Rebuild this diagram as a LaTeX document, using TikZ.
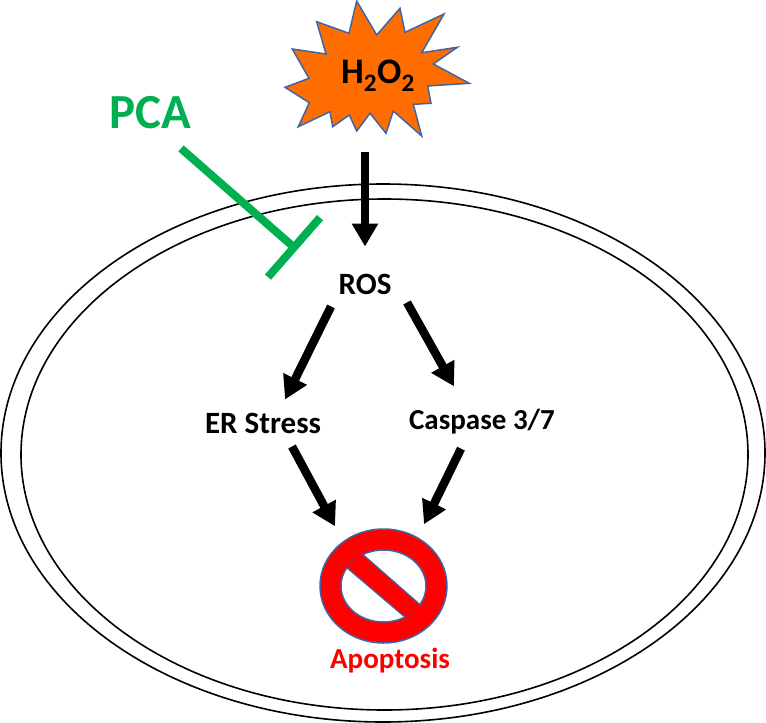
\documentclass[tikz,border=0pt]{standalone}
\usepackage{fontspec}
\setmainfont{Carlito}
\usetikzlibrary{arrows.meta,shapes.geometric}
\definecolor{burst}{HTML}{FF6D01}
\definecolor{rim}{HTML}{3F65A5}
\definecolor{block}{HTML}{00B050}

\begin{document}
\begin{tikzpicture}[x=1pt,y=-1pt,
    arr/.style={line width=8.5pt,-{Triangle[length=23pt,width=25pt]}},
    inhib/.style={line width=8pt,draw=block,-{Bar[width=79pt,line width=8pt]}},
    lbl/.style={font=\bfseries\fontsize{29}{29}\selectfont,inner sep=0pt},
    biglbl/.style={font=\bfseries\fontsize{31}{31}\selectfont,inner sep=0pt},
    wall/.style={draw=black,line width=1.6pt}]

      \useasboundingbox (0,0) rectangle (766,723);

      % cell walls
      \draw[wall] (383,453) ellipse [x radius=382,y radius=269];
      \draw[wall] (384.5,454.5) ellipse [x radius=363.5,y radius=255.5];

      % burst behind the label
      \draw[fill=burst,draw=rim,line width=1.5pt,line join=miter]
        (356.7,1) -- (376.7,35) -- (400,8.3) -- (405,32.3) -- (444,14) -- (421.7,52.7)
        -- (457.3,47.3) -- (433.3,64) -- (469.3,83.3) -- (427.7,86) -- (431,103.3)
        -- (413.3,104.3) -- (421.7,136) -- (393.3,111) -- (386,133.3) -- (370,113.3)
        -- (356.7,131) -- (349.3,115) -- (332.7,126.7) -- (330,111.7) -- (298.3,126.7)
        -- (309.3,102.7) -- (285,87.3) -- (309,78.3) -- (292.3,49) -- (326,54)
        -- (316.7,21.7) -- (349,33.3) -- cycle;

      \node[lbl,font=\bfseries\fontsize{36}{36}\selectfont] (h2o2) at (378,76) {H\textsubscript{2}O\textsubscript{2}};
      \node[lbl,text=block,font=\bfseries\fontsize{49}{49}\selectfont] (pca) at (150,113) {PCA};
      \node[biglbl] (ros) at (365,284) {ROS};
      \node[biglbl] (er) at (263,423) {ER Stress};
      \node[lbl] (casp) at (482,421.5) {Caspase 3/7};
      \node[lbl,text=red] (apop) at (390,661) {Apoptosis};

      % stop sign
      \node[draw=rim,fill=red,line width=1.5pt,ellipse,inner sep=0pt,minimum width=127pt,minimum height=114pt] (stop) at (383.5,586) {};
      \node[draw=rim,fill=white,line width=1.5pt,ellipse,inner sep=0pt,minimum width=85pt,minimum height=72pt] (hole) at (383.5,586) {};
      \begin{scope}
        \clip (383.5,586) ellipse [x radius=43,y radius=36.5];
        \fill[red] (350,543.2) -- (430,613.3) -- (415,625.7) -- (336,558.5) -- cycle;
        \draw[rim,line width=1.2pt] (350,543.2) -- (430,613.3);
        \draw[rim,line width=1.2pt] (336,558.5) -- (415,625.7);
      \end{scope}

      \draw[arr] ([shift={(-13,60)}]h2o2.south) -- ([shift={(0,-27)}]ros.north);
      \draw[arr] ([shift={(-34,12)}]ros.south) -- ([shift={(22,-13)}]er.north);
      \draw[arr] ([shift={(42,8)}]ros.south) -- ([shift={(-28,-22.5)}]casp.north);
      \draw[arr] ([shift={(29,13)}]er.south) -- ([shift={(-48.5,-2)}]stop.north);
      \draw[arr] ([shift={(-21,14.5)}]casp.south) -- ([shift={(40.5,-4)}]stop.north);

      \coordinate (pcaend) at (297,250);
      \draw[inhib] ([shift={(31,19)}]pca.south) -- (pcaend);

    \end{tikzpicture}
\end{document}
